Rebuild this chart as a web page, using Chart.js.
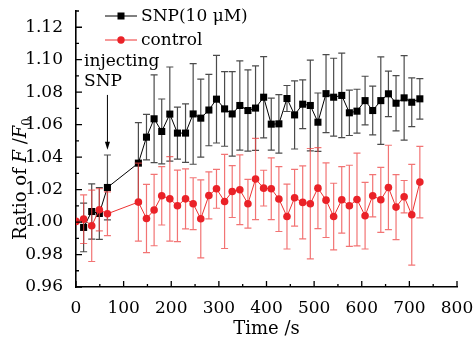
<!DOCTYPE html>
<html>
<head>
<meta charset="utf-8">
<script src="https://cdn.jsdelivr.net/npm/chart.js@4/dist/chart.umd.min.js"></script>
<style>
  body { margin: 0; background: #fff; }
</style>
</head>
<body>
<canvas id="ratioChart" width="473" height="340"></canvas>
<script>
// time points (s)
const time = [0, 16, 33, 49, 66, 131, 148, 164, 180, 197, 213, 230, 246, 262, 279, 295, 312, 328, 344, 361, 377,
    394, 410, 426, 443, 459, 476, 492, 508, 525, 541, 558, 574, 590, 607, 623, 640, 656, 672, 689, 705, 722];

// SNP (10 uM) mean ratio and error
const snpValues = [null, 0.9967, 1.0065, 1.0053, 1.0213, 1.0363, 1.0523, 1.0636, 1.0558, 1.0665, 1.0548, 1.0548,
    1.0666, 1.0640, 1.0690, 1.0757, 1.0697, 1.0666, 1.0718, 1.0687, 1.0702, 1.0769, 1.0603, 1.0605, 1.0761,
    1.0660, 1.0726, 1.0718, 1.0615, 1.0791, 1.0769, 1.0780, 1.0673, 1.0683, 1.0748, 1.0687, 1.0748, 1.0790,
    1.0732, 1.0765, 1.0738, 1.0759];
const snpErrors = [null, 0.015, 0.017, 0.016, 0.020, 0.025, 0.014, 0.027, 0.020, 0.029, 0.016, 0.018,
    0.031, 0.024, 0.022, 0.027, 0.023, 0.026, 0.0275, 0.025, 0.026, 0.025, 0.016, 0.018, 0.008,
    0.021, 0.015, 0.028, 0.018, 0.024, 0.024, 0.026, 0.014, 0.0135, 0.015, 0.015, 0.027, 0.014,
    0.017, 0.026, 0.015, 0.0125];

// control mean ratio and error
const controlValues = [1.0004, 1.0018, 0.9977, 1.0076, 1.0051, 1.0123, 1.0022, 1.0074, 1.0162, 1.0143, 1.0100,
    1.0143, 1.0113, 1.0020, 1.0164, 1.0205, 1.0127, 1.0188, 1.0199, 1.0113, 1.0265, 1.0209, 1.0205, 1.0142,
    1.0034, 1.0150, 1.0121, 1.0113, 1.0209, 1.0135, 1.0034, 1.0137, 1.0100, 1.0139, 1.0039, 1.0162, 1.0137,
    1.0213, 1.0092, 1.0156, 1.0045, 1.0246];
const controlErrors = [0, 0.015, 0.022, 0.013, 0.0135, 0.024, 0.021, 0.022, 0.018, 0.026, 0.022,
    0.0185, 0.016, 0.024, 0.0145, 0.012, 0.029, 0.016, 0.0215, 0.015, 0.025, 0.011, 0.019, 0.020,
    0.020, 0.0175, 0.0225, 0.034, 0.025, 0.023, 0.0205, 0.0205, 0.025, 0.0286, 0.0205, 0.013, 0.020,
    0.026, 0.020, 0.010, 0.031, 0.022];

const xTicks = [0, 100, 200, 300, 400, 500, 600, 700, 800];
const yTicks = [0.96, 0.98, 1.00, 1.02, 1.04, 1.06, 1.08, 1.10, 1.12];
const injectTime = 66;

const serif = 'DejaVu Serif';
Chart.defaults.font.family = serif;
Chart.defaults.color = '#000';

const toPoints = (vals) => time.map((t, i) => ({ x: t, y: vals[i] })).filter(p => p.y !== null);

const whiteBg = {
    id: 'whiteBg',
    beforeDraw(chart) {
        const ctx = chart.ctx;
        ctx.save();
        ctx.fillStyle = '#fff';
        ctx.fillRect(0, 0, chart.width, chart.height);
        ctx.restore();
    }
};

// error bars drawn just under each dataset
const errorBars = {
    id: 'errorBars',
    beforeDatasetDraw(chart, args) {
        const ds = chart.data.datasets[args.index];
        const ys = chart.scales.y;
        const ctx = chart.ctx;
        ctx.save();
        ctx.strokeStyle = ds.errorColor;
        ctx.lineWidth = 1.2;
        args.meta.data.forEach((pt, i) => {
            const e = ds.errors[i];
            if (!e) return;
            const v = ds.data[i].y;
            const top = ys.getPixelForValue(v + e);
            const bot = ys.getPixelForValue(v - e);
            ctx.beginPath();
            ctx.moveTo(pt.x, top); ctx.lineTo(pt.x, bot);
            ctx.moveTo(pt.x - 3.5, top); ctx.lineTo(pt.x + 3.5, top);
            ctx.moveTo(pt.x - 3.5, bot); ctx.lineTo(pt.x + 3.5, bot);
            ctx.stroke();
        });
        ctx.restore();
    }
};

// inward major/minor ticks, legend, annotation, y title
const extras = {
    id: 'extras',
    afterDraw(chart) {
        const ctx = chart.ctx;
        const xs = chart.scales.x, ys = chart.scales.y;
        const a = chart.chartArea;
        ctx.save();
        ctx.strokeStyle = '#000';
        ctx.lineWidth = 1.3;
        ctx.beginPath();
        for (let v = 0; v <= 800; v += 50) {
            const px = xs.getPixelForValue(v);
            const len = v % 100 === 0 ? 6 : 3;
            ctx.moveTo(px, a.bottom); ctx.lineTo(px, a.bottom - len);
        }
        for (let k = 0; k <= 17; k++) {
            const py = ys.getPixelForValue(0.96 + k * 0.01);
            const len = k % 2 === 0 ? 6 : 3;
            ctx.moveTo(a.left, py); ctx.lineTo(a.left + len, py);
        }
        ctx.stroke();

        // legend
        const rows = [chart.data.datasets[0], chart.data.datasets[1]];
        const rowY = [16, 40];
        ctx.font = '17px ' + serif;
        ctx.textBaseline = 'middle';
        rows.forEach((ds, i) => {
            const y = rowY[i];
            ctx.strokeStyle = ds.borderColor;
            ctx.lineWidth = 1;
            ctx.beginPath();
            ctx.moveTo(105, y); ctx.lineTo(137, y);
            ctx.stroke();
            ctx.fillStyle = ds.pointBackgroundColor;
            if (ds.pointStyle === 'rect') {
                ctx.fillRect(121 - 3.5, y - 3.5, 7, 7);
            } else {
                ctx.beginPath();
                ctx.arc(121, y, 3.7, 0, Math.PI * 2);
                ctx.fill();
            }
            ctx.fillStyle = '#000';
            ctx.fillText(ds.label, 141, y + 1);
        });

        // injection annotation
        const ax = xs.getPixelForValue(injectTime);
        const y0 = ys.getPixelForValue(1.0783);
        const y1 = ys.getPixelForValue(1.0445);
        ctx.strokeStyle = '#000';
        ctx.lineWidth = 1;
        ctx.beginPath();
        ctx.moveTo(ax, y0); ctx.lineTo(ax, y1 - 6);
        ctx.stroke();
        ctx.fillStyle = '#000';
        ctx.beginPath();
        ctx.moveTo(ax, y1); ctx.lineTo(ax - 2.5, y1 - 8); ctx.lineTo(ax + 2.5, y1 - 8);
        ctx.closePath();
        ctx.fill();
        ctx.font = '17px ' + serif;
        ctx.textAlign = 'left';
        ctx.fillText('injecting', 84, 62);
        ctx.fillText('SNP', 84, 82);

        // y axis title with italic F and subscript 0
        const parts = [
            { t: 'Ratio of ', f: '18px ' + serif, dy: 0 },
            { t: 'F', f: 'italic 18px ' + serif, dy: 0 },
            { t: ' /', f: '18px ' + serif, dy: 0 },
            { t: 'F', f: 'italic 18px ' + serif, dy: 0 },
            { t: '0', f: '12px ' + serif, dy: 5 }
        ];
        let total = 0;
        parts.forEach(p => { ctx.font = p.f; p.w = ctx.measureText(p.t).width; total += p.w; });
        ctx.translate(26, 179);
        ctx.rotate(-Math.PI / 2);
        ctx.textBaseline = 'alphabetic';
        let cx = -total / 2;
        parts.forEach(p => {
            ctx.font = p.f;
            ctx.fillText(p.t, cx, p.dy);
            cx += p.w;
        });
        ctx.restore();
    }
};

const ctx = document.getElementById('ratioChart').getContext('2d');
new Chart(ctx, {
    type: 'line',
    data: {
        datasets: [
            {
                label: 'SNP(10 \u03BCM)',
                data: toPoints(snpValues),
                errors: snpErrors.filter(e => e !== null),
                errorColor: 'rgba(30,30,30,0.8)',
                borderColor: '#000',
                borderWidth: 1,
                pointStyle: 'rect',
                pointRadius: 5,
                pointBackgroundColor: '#000',
                pointBorderWidth: 0,
                tension: 0,
                order: 2
            },
            {
                label: 'control',
                data: toPoints(controlValues),
                errors: controlErrors,
                errorColor: 'rgba(238,70,70,0.75)',
                borderColor: '#ee3333',
                borderWidth: 1,
                pointStyle: 'circle',
                pointRadius: 3.8,
                pointBackgroundColor: '#ea2228',
                pointBorderWidth: 0,
                tension: 0,
                order: 1
            }
        ]
    },
    options: {
        responsive: false,
        animation: false,
        events: [],
        layout: { padding: { top: 11, right: 16, left: 0, bottom: 0 } },
        plugins: {
            legend: { display: false },
            tooltip: { enabled: false }
        },
        scales: {
            x: {
                type: 'linear',
                min: 0,
                max: 800,
                afterBuildTicks: (s) => { s.ticks = xTicks.map(v => ({ value: v })); },
                afterFit: (s) => { s.height = 53; s.paddingLeft = 0; s.paddingRight = 0; },
                grid: { display: false },
                border: { display: true, color: '#000', width: 1.6 },
                ticks: { font: { size: 17 }, padding: 3, maxRotation: 0, autoSkip: false },
                title: { display: true, text: 'Time /s', font: { size: 18 }, padding: 0 }
            },
            y: {
                type: 'linear',
                min: 0.96,
                max: 1.13,
                afterBuildTicks: (s) => { s.ticks = yTicks.map(v => ({ value: v })); },
                afterFit: (s) => { s.width = 76; s.paddingTop = 0; s.paddingBottom = 0; },
                grid: { display: false },
                border: { display: true, color: '#000', width: 1.6 },
                ticks: {
                    font: { size: 17 },
                    padding: 5,
                    callback: (v) => v.toFixed(2)
                }
            }
        }
    },
    plugins: [whiteBg, errorBars, extras]
});
</script>
</body>
</html>
